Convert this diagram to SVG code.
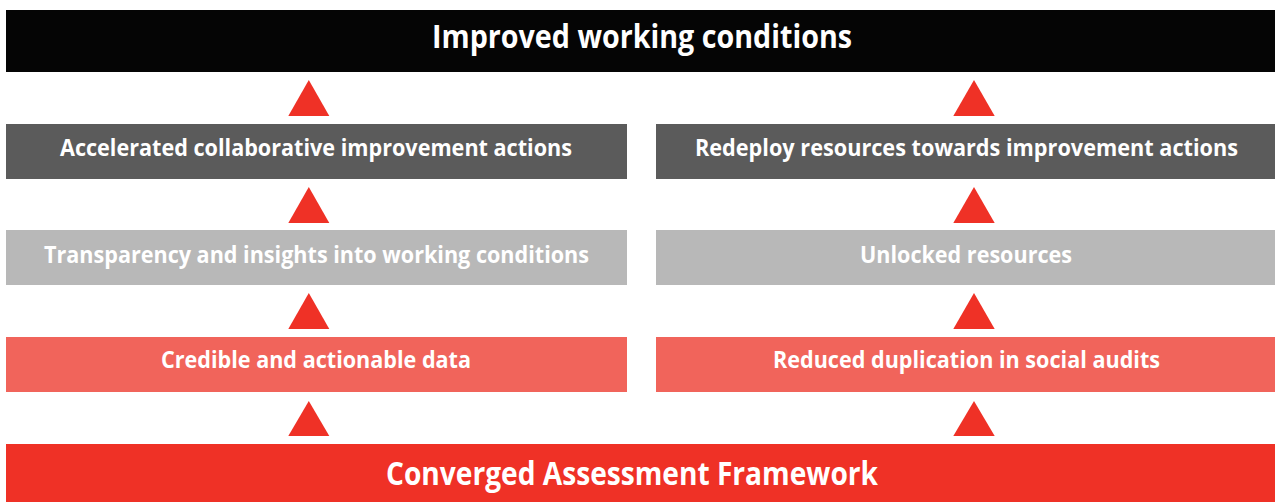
<svg xmlns="http://www.w3.org/2000/svg" width="1275" height="502" viewBox="0 0 1275 502">
  <style>
    .lbl { font-family: "Open Sans", "Noto Sans", "Liberation Sans", sans-serif; font-weight: 700; fill: #ffffff; text-anchor: middle; }
    .mid { font-size: 23px; }
    .big { font-size: 32px; }
    .c-black { fill: #050505; }
    .c-dark { fill: #5b5b5b; }
    .c-light { fill: #b8b8b8; }
    .c-pink { fill: #f1645b; }
    .c-red { fill: #ef3126; }
    .tri { fill: #ef3126; }
  </style>
  <rect width="1275" height="502" fill="#ffffff"/>

  <g id="improved-working-conditions">
    <rect class="c-black" x="6" y="10" width="1269" height="62"/>
    <text class="lbl big" x="642" y="48" textLength="420" lengthAdjust="spacingAndGlyphs">Improved working conditions</text>
  </g>

  <g id="accelerated-actions">
    <rect class="c-dark" x="6" y="124" width="621" height="55"/>
    <text class="lbl mid" x="316" y="156" textLength="512" lengthAdjust="spacingAndGlyphs">Accelerated collaborative improvement actions</text>
  </g>
  <g id="redeploy-resources">
    <rect class="c-dark" x="656" y="124" width="619" height="55"/>
    <text class="lbl mid" x="966.5" y="156" textLength="543" lengthAdjust="spacingAndGlyphs">Redeploy resources towards improvement actions</text>
  </g>

  <g id="transparency">
    <rect class="c-light" x="6" y="230" width="621" height="55"/>
    <text class="lbl mid" x="316.5" y="263" textLength="545" lengthAdjust="spacingAndGlyphs">Transparency and insights into working conditions</text>
  </g>
  <g id="unlocked-resources">
    <rect class="c-light" x="656" y="230" width="619" height="55"/>
    <text class="lbl mid" x="966" y="263" textLength="212" lengthAdjust="spacingAndGlyphs">Unlocked resources</text>
  </g>

  <g id="credible-data">
    <rect class="c-pink" x="6" y="337" width="621" height="55"/>
    <text class="lbl mid" x="316" y="368" textLength="310" lengthAdjust="spacingAndGlyphs">Credible and actionable data</text>
  </g>
  <g id="reduced-duplication">
    <rect class="c-pink" x="656" y="337" width="619" height="55"/>
    <text class="lbl mid" x="966.5" y="368" textLength="387" lengthAdjust="spacingAndGlyphs">Reduced duplication in social audits</text>
  </g>

  <g id="converged-assessment-framework">
    <rect class="c-red" x="6" y="444" width="1269" height="58"/>
    <text class="lbl big" x="632" y="485" textLength="492" lengthAdjust="spacingAndGlyphs">Converged Assessment Framework</text>
  </g>

  <g id="connectors">
    <polygon class="tri" points="308.8,80 329.3,116 288.3,116"/>
    <polygon class="tri" points="974,80 994.7,116 953.3,116"/>
    <polygon class="tri" points="308.8,187 329.3,223 288.3,223"/>
    <polygon class="tri" points="974,187 994.7,223 953.3,223"/>
    <polygon class="tri" points="308.8,293 329.3,329 288.3,329"/>
    <polygon class="tri" points="974,293 994.7,329 953.3,329"/>
    <polygon class="tri" points="308.8,401 329.3,436 288.3,436"/>
    <polygon class="tri" points="974,401 994.7,436 953.3,436"/>
  </g>
</svg>
